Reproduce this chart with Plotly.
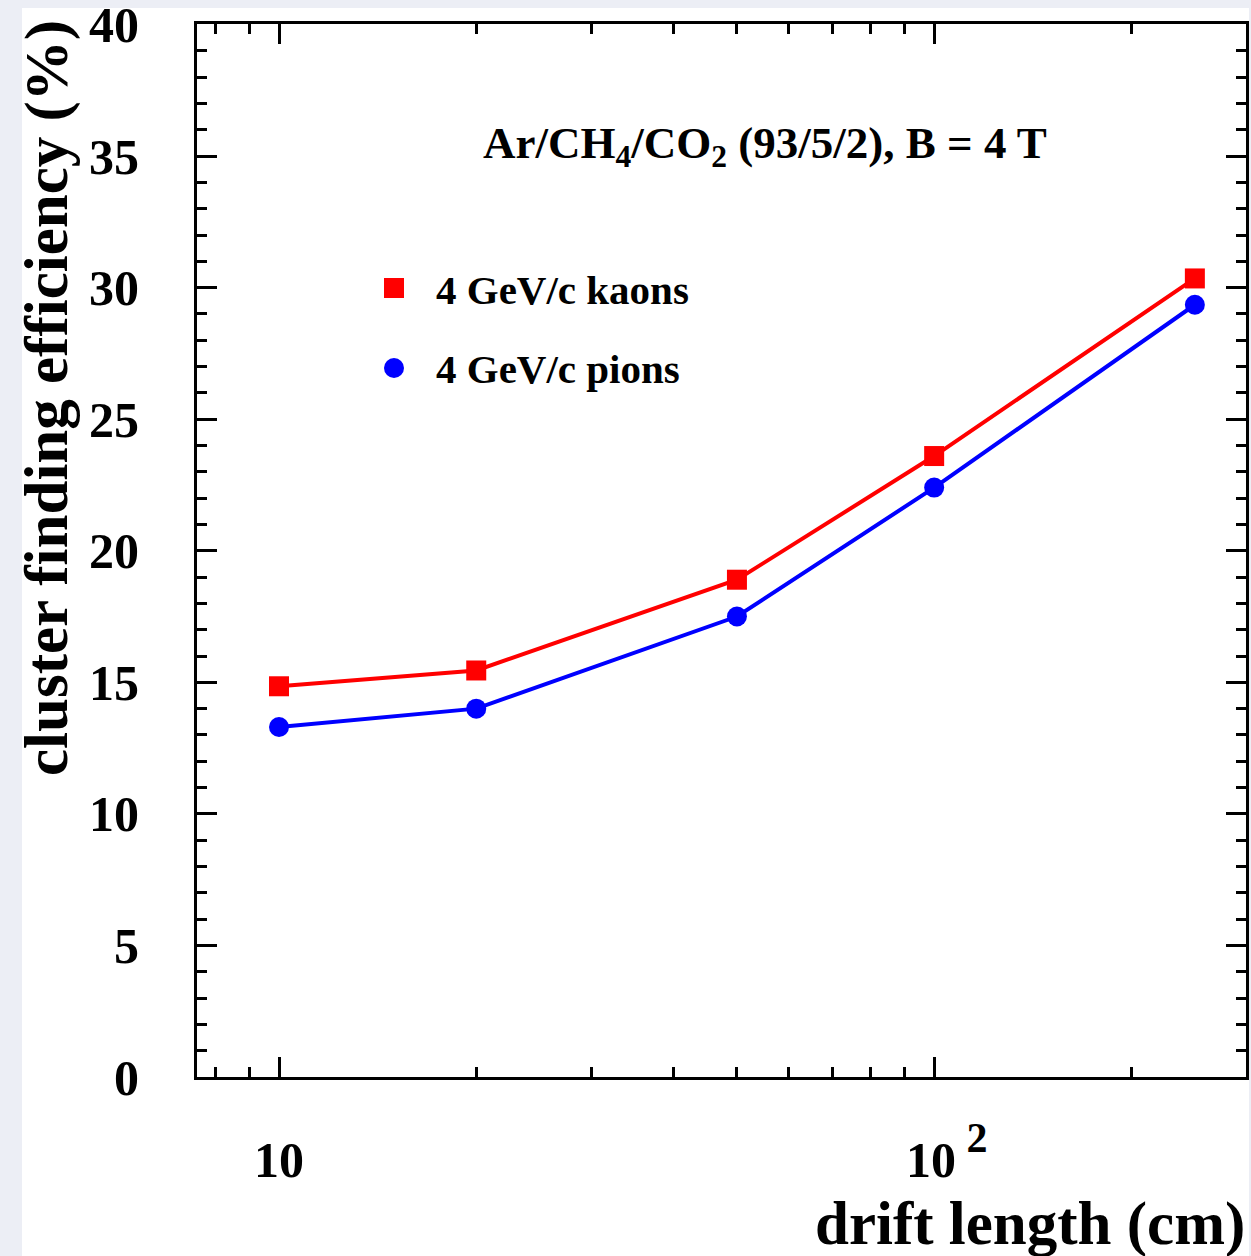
import plotly.graph_objects as go

# Drift length (cm) and cluster finding efficiency (%)
drift_length = [10, 20, 50, 100, 250]
eff_kaons = [14.85, 15.45, 18.9, 23.6, 30.35]
eff_pions = [13.3, 14.0, 17.5, 22.4, 29.35]

x_tick_vals = [10, 100]
x_tick_text = [
    "10",
    "\u00a0\u00a010<span style='font-size:60px'><sup>\u00a02</sup></span>",
]
x_minor_vals = [8, 9, 20, 30, 40, 50, 60, 70, 80, 90, 200]
y_tick_vals = [0, 5, 10, 15, 20, 25, 30, 35, 40]

W, H = 1251, 1256
L, R, T, B = 197, 5, 24, 179
FONT = "Liberation Serif, Times New Roman, serif"


def px(x):
    return (x - L) / (W - L - R)


def py(y):
    return (H - B - y) / (H - T - B)


def bold(size):
    return dict(family=FONT, size=size, color="black", weight="bold")


fig = go.Figure()

fig.add_trace(go.Scatter(
    x=drift_length, y=eff_kaons, mode="lines+markers",
    line=dict(color="#ff0000", width=4),
    marker=dict(symbol="square", size=20, color="#ff0000"),
    name="4 GeV/c kaons", showlegend=False,
))
fig.add_trace(go.Scatter(
    x=drift_length, y=eff_pions, mode="lines+markers",
    line=dict(color="#0000ff", width=4),
    marker=dict(symbol="circle", size=20, color="#0000ff"),
    name="4 GeV/c pions", showlegend=False,
))

axis_common = dict(
    showline=True, linecolor="black", linewidth=3,
    ticks="inside", tickcolor="black", tickwidth=3, ticklen=20,
    mirror="allticks", showgrid=False, zeroline=False,
    tickfont=bold(50), ticklabeloverflow="allow",
)

fig.update_xaxes(
    type="log", range=[0.8748, 2.476],
    tickmode="array", tickvals=x_tick_vals, ticktext=x_tick_text,
    ticklabelstandoff=37,
    minor=dict(tickmode="array", tickvals=x_minor_vals, ticks="inside",
               ticklen=10, tickwidth=3, tickcolor="black", showgrid=False),
    **axis_common,
)
fig.update_yaxes(
    range=[0, 40.02], tickmode="array", tickvals=y_tick_vals,
    ticklabelstandoff=45,
    minor=dict(dtick=1, tick0=0, ticks="inside", ticklen=10, tickwidth=3,
               tickcolor="black", showgrid=False),
    **axis_common,
)

# white canvas on a tinted page
fig.add_shape(type="rect", xref="paper", yref="paper",
              x0=px(22), x1=px(1249), y0=py(8), y1=py(1262),
              fillcolor="white", line=dict(width=0), layer="below")

# legend entries
fig.add_shape(type="rect", xref="paper", yref="paper",
              x0=px(384), x1=px(404), y0=py(298), y1=py(278),
              fillcolor="#ff0000", line=dict(width=0))
fig.add_shape(type="circle", xref="paper", yref="paper",
              x0=px(384), x1=px(404), y0=py(378), y1=py(358),
              fillcolor="#0000ff", line=dict(width=0))

annotations = [
    dict(text="4 GeV/c kaons", x=px(434), y=py(290), xanchor="left", yanchor="middle",
         font=bold(41)),
    dict(text="4 GeV/c pions", x=px(434), y=py(369), xanchor="left", yanchor="middle",
         font=bold(41)),
    dict(text="Ar/CH<sub>4</sub>/CO<sub>2</sub> (93/5/2), B = 4 T",
         x=px(765), y=py(146), xanchor="center", yanchor="middle",
         font=bold(45)),
    dict(text="drift length (cm)", x=px(1247), y=py(1224), xanchor="right", yanchor="middle",
         font=bold(61)),
    dict(text="cluster finding efficiency (%)", x=px(47), y=py(398), textangle=-90,
         xanchor="center", yanchor="middle",
         font=bold(61)),
]
for a in annotations:
    a.update(xref="paper", yref="paper", showarrow=False)
fig.update_layout(annotations=annotations)

fig.update_layout(
    width=W, height=H,
    margin=dict(l=L, r=R, t=T, b=B, autoexpand=False),
    paper_bgcolor="#eceef5", plot_bgcolor="white",
    font=dict(family=FONT, color="black"),
    showlegend=False,
)

fig.write_html("out.html")
